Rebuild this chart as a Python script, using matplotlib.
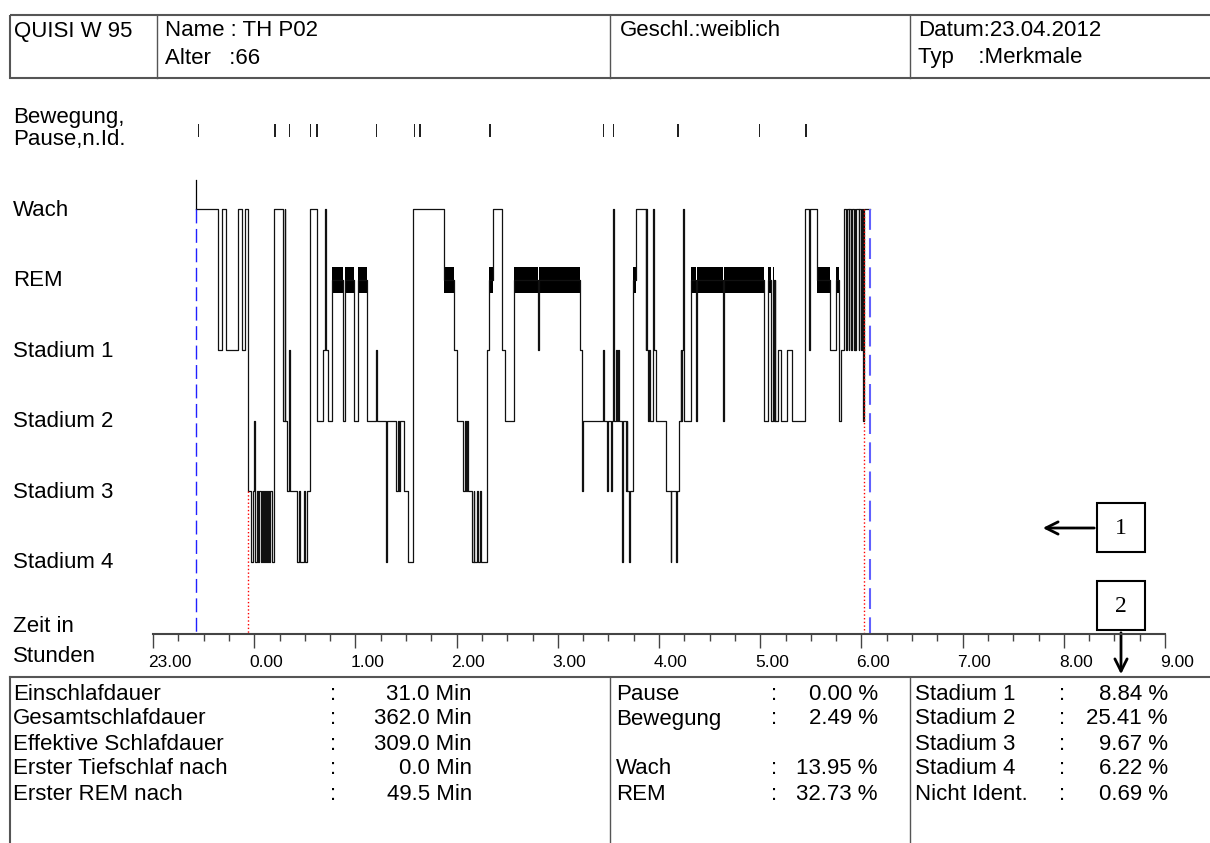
import matplotlib
matplotlib.use("Agg")
from matplotlib import pyplot as plt
from matplotlib.patches import Rectangle
from matplotlib.transforms import ScaledTranslation

plt.rcParams['font.family'] = ['Liberation Sans', 'DejaVu Sans']

# Hypnogramm: Minuten nach 23:00 und Stadium
stage_times = [25.3, 38.7, 41.1, 43.1, 50.6, 52.6, 54.5, 56.5, 57.9, 59.3,
               60.1, 60.5, 61.5, 62.3, 63.0, 63.9, 64.6, 65.2, 65.8, 66.4,
               67.0, 67.6, 68.2, 68.8, 69.4, 70.4, 71.7, 77.3, 78.0, 78.3,
               79.3, 80.6, 81.2, 85.6, 86.6, 87.2, 89.5, 90.1, 91.1, 93.1,
               97.1, 101.0, 102.0, 102.3, 103.9, 106.0, 112.8, 113.7, 119.2, 121.7,
               127.1, 132.4, 132.8, 138.3, 138.7, 144.3, 145.3, 145.7, 146.7, 148.8,
               151.2, 154.2, 172.5, 178.5, 180.4, 183.8, 184.8, 185.3, 186.2, 186.8,
               189.1, 190.2, 190.6, 192.0, 192.4, 194.0, 194.3, 197.9, 199.0, 201.8,
               206.9, 208.9, 214.2, 228.1, 228.9, 253.3, 254.4, 254.8, 267.0, 267.4,
               269.2, 269.6, 271.5, 272.0, 272.9, 273.3, 274.5, 275.2, 275.6, 276.3,
               278.3, 278.7, 280.3, 281.0, 281.3, 282.2, 282.8, 284.8, 286.6, 292.1,
               292.5, 293.0, 293.5, 294.2, 294.6, 296.6, 297.0, 298.1, 304.0, 306.9,
               307.4, 309.9, 310.4, 311.9, 312.8, 313.2, 313.8, 314.4, 314.8, 319.2,
               321.8, 322.3, 338.1, 338.5, 362.1, 364.6, 366.6, 367.4, 368.2, 368.6,
               369.0, 370.6, 372.5, 375.9, 378.9, 386.7, 388.9, 389.5, 393.7, 401.6,
               405.1, 406.5, 407.9, 409.5, 410.9, 411.4, 412.4, 412.9, 413.9, 414.4,
               415.6, 416.0, 416.5, 417.0, 418.3, 418.8, 419.8, 420.2, 420.8, 421.4]
stage_codes = ['W', '1', 'W', '1', 'W', '1', 'W', '3', '4', '3',
               '2', '4', '3', '4', '3', '4', '3', '4', '3', '4',
               '3', '4', '3', '4', '3', '4', 'W', '2', 'W', '2',
               '3', '1', '3', '4', '3', '4', '3', '4', '3', 'W',
               '2', '1', 'W', '1', '2', 'R', '2', 'R', '2', 'R',
               '2', '1', '2', '4', '2', '3', '2', '3', '2', '3',
               '4', 'W', 'R', '1', '2', '3', '2', '3', '2', '3',
               '4', '3', '4', '3', '4', '3', '4', '1', 'R', 'W',
               '1', '2', 'R', '1', 'R', '1', '3', '2', '1', '2',
               '3', '2', '3', '2', 'W', '2', '1', '2', '1', '2',
               '4', '2', '3', '2', '3', '4', '3', 'R', 'W', '1',
               'W', '1', '2', '1', '2', 'W', '1', '2', '3', '4',
               '3', '4', '3', '2', '1', '2', '1', 'W', '2', 'R',
               '2', 'R', '2', 'R', '2', 'R', '2', 'R', '2', 'R',
               '2', '1', '2', '1', '2', 'W', '1', 'W', 'R', '1',
               'R', '2', '1', 'W', '1', 'W', '1', 'W', '1', 'W',
               '1', 'W', '1', 'W', '1', 'W', '1', 'W', '2', 'W']
record_end = 425.3

# Bewegung / Pause / nicht identifiziert (Minuten nach 23:00, Dauer)
move_times = [26.7, 71.5, 80.5, 93.1, 96.9, 132.0, 154.6, 157.7, 199.4,
              266.8, 272.6, 310.9, 359.0, 386.4]
move_durs = [0.8, 1.6, 1.0, 0.7, 0.7, 0.7, 0.9, 0.9, 0.7,
             0.7, 0.7, 0.7, 0.7, 1.3]

lights_off = 25.3
sleep_onset = 56.5
sleep_end = 421.4
lights_on = 425.3

stage_levels = {'W': 0, 'R': 1, '1': 2, '2': 3, '3': 4, '4': 5}
row_labels = ['Wach', 'REM', 'Stadium 1', 'Stadium 2', 'Stadium 3', 'Stadium 4']
hour_labels = ['23.00', '0.00', '1.00', '2.00', '3.00', '4.00',
               '5.00', '6.00', '7.00', '8.00', '9.00']

header = [('QUISI W 95', 14, 31), ('Name : TH P02', 165, 31), ('Alter   :66', 165, 58),
          ('Geschl.:weiblich', 620, 31), ('Datum:23.04.2012', 918, 31),
          ('Typ    :Merkmale', 918, 58)]

tab1_names = ['Einschlafdauer', 'Gesamtschlafdauer', 'Effektive Schlafdauer',
              'Erster Tiefschlaf nach', 'Erster REM nach']
tab1_vals = ['31.0 Min', '362.0 Min', '309.0 Min', '0.0 Min', '49.5 Min']
tab2_names = ['Pause', 'Bewegung', '', 'Wach', 'REM']
tab2_vals = ['0.00 %', '2.49 %', '', '13.95 %', '32.73 %']
tab3_names = ['Stadium 1', 'Stadium 2', 'Stadium 3', 'Stadium 4', 'Nicht Ident.']
tab3_vals = ['8.84 %', '25.41 %', '9.67 %', '6.22 %', '0.69 %']

W, H = 1210, 843
fig = plt.figure(figsize=(W / 100, H / 100), dpi=100)

# overlay in Pixeln fuer Rahmen und Texte
ov = fig.add_axes([0, 0, 1, 1])
ov.set_xlim(0, W)
ov.set_ylim(H, 0)
ov.axis('off')

fs = 16
gray = '#555555'
ov.add_patch(Rectangle((10, 15), 1210, 63, fill=False, ec=gray, lw=1.5))
for xd in [157, 610, 910]:
    ov.plot([xd, xd], [15, 78], color=gray, lw=1)
for txt, x, y in header:
    ov.text(x, y, txt, fontsize=fs, va='center', ha='left')

ov.text(13, 117, 'Bewegung,', fontsize=fs, va='center')
ov.text(13, 139, 'Pause,n.Id.', fontsize=fs, va='center')
for i, lab in enumerate(row_labels):
    ov.text(13, 210 + 70.6 * i, lab, fontsize=fs, va='center')
ov.text(13, 627, 'Zeit in', fontsize=fs, va='center')
ov.text(13, 656, 'Stunden', fontsize=fs, va='center')

# Tabelle unten
ov.plot([10, 1212], [677, 677], color=gray, lw=1.5)
ov.plot([10, 10], [677, 843], color=gray, lw=1.5)
for xd in [610, 910]:
    ov.plot([xd, xd], [677, 843], color=gray, lw=1)
rows_y = [694, 719, 744, 769, 794]
for i, y in enumerate(rows_y):
    ov.text(13, y, tab1_names[i], fontsize=fs, va='center')
    ov.text(330, y, ':', fontsize=fs, va='center')
    ov.text(472, y, tab1_vals[i], fontsize=fs, va='center', ha='right')
    if tab2_names[i]:
        ov.text(616, y, tab2_names[i], fontsize=fs, va='center')
        ov.text(771, y, ':', fontsize=fs, va='center')
        ov.text(878, y, tab2_vals[i], fontsize=fs, va='center', ha='right')
    ov.text(915, y, tab3_names[i], fontsize=fs, va='center')
    ov.text(1059, y, ':', fontsize=fs, va='center')
    ov.text(1168, y, tab3_vals[i], fontsize=fs, va='center', ha='right')

# Markierungen 1 und 2
for num, y0 in [('1', 503), ('2', 581)]:
    ov.add_patch(Rectangle((1097, y0), 48, 49, fill=False, ec='black', lw=1.5))
    ov.text(1121, y0 + 25, num, fontsize=17, ha='center', va='center',
            family=['Liberation Serif', 'DejaVu Serif'])
ov.annotate('', xy=(1040, 528), xytext=(1097, 528),
            arrowprops=dict(arrowstyle='->', lw=2, mutation_scale=22, color='black'))
ov.annotate('', xy=(1121, 677), xytext=(1121, 630),
            arrowprops=dict(arrowstyle='->', lw=2, mutation_scale=22, color='black'))

# Hypnogramm
ax = fig.add_axes([153 / W, 1 - 634 / H, 1012 / W, 524 / H])
ax.patch.set_alpha(0)
lv = [stage_levels[c] for c in stage_codes]
ax.step(stage_times + [record_end], lv + [lv[-1]], where='post', color='#111111', lw=0.9)
ax.plot([stage_times[0], stage_times[0]], [-0.41, 0], color='black', lw=0.9)

rem = []
for i, c in enumerate(stage_codes):
    if c == 'R':
        t1 = stage_times[i + 1] if i + 1 < len(stage_times) else record_end
        rem.append((stage_times[i], t1 - stage_times[i]))
ax.broken_barh(rem, (0.815, 0.37), color='black', lw=0)

ax.bar(move_times, 0.19, width=move_durs, bottom=-1.21, color='#222222', align='edge')


def level_at(t):
    cur = lv[0]
    for ti, l in zip(stage_times, lv):
        if ti <= t:
            cur = l
    return cur


y_bot = (634 - 209) / 70.6
ax.plot([lights_off, lights_off], [0, y_bot], color='#2020ff', lw=1, dashes=(10, 4))
ax.plot([lights_on, lights_on], [0, y_bot], color='#6060ff', lw=1.5, dashes=(10, 4))
ax.plot([sleep_onset, sleep_onset], [level_at(sleep_onset), y_bot], color='red', lw=1, ls=':')
ax.plot([sleep_end, sleep_end], [0, y_bot], color='red', lw=1, ls=':')

ax.set_xlim(0, 600)
ax.set_ylim(y_bot, (110 - 209) / 70.6)
for s in ['top', 'right', 'left']:
    ax.spines[s].set_visible(False)
ax.spines['bottom'].set_color('#444444')
ax.spines['bottom'].set_linewidth(1.5)
ax.set_yticks([])
ax.set_xticks(range(0, 601, 60))
ax.set_xticks(range(0, 601, 15), minor=True)
ax.set_xticklabels(hour_labels)
ax.tick_params(axis='x', which='major', length=10, width=1, direction='out',
               labelsize=12.5, pad=5, color='#444444')
ax.tick_params(axis='x', which='minor', length=5, width=1, direction='out', color='#444444')
shift = ScaledTranslation(-5 / 100, 0, fig.dpi_scale_trans)
for lab in ax.get_xticklabels():
    lab.set_horizontalalignment('left')
    lab.set_transform(lab.get_transform() + shift)

fig.savefig('out.png', dpi=100)
